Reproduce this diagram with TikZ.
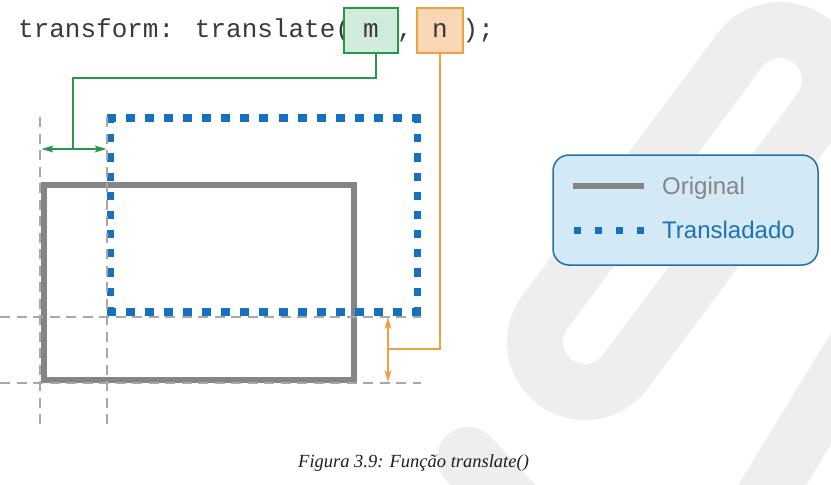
\documentclass[tikz,border=0pt]{standalone}
\usepackage{fontspec}
\usetikzlibrary{arrows.meta}
\newfontfamily\codefont{Liberation Mono}
\newfontfamily\legfont{Liberation Sans}
\newfontfamily\capfont{Liberation Serif}
\definecolor{wm}{RGB}{238,238,238}
\definecolor{codegray}{RGB}{58,58,58}
\definecolor{mgreen}{RGB}{40,150,75}
\definecolor{mfill}{RGB}{208,235,217}
\definecolor{norange}{RGB}{240,160,64}
\definecolor{nfill}{RGB}{249,214,180}
\definecolor{guidegray}{RGB}{168,168,168}
\definecolor{origgray}{RGB}{133,133,133}
\definecolor{tblue}{RGB}{22,114,190}
\definecolor{legfill}{RGB}{211,234,246}
\definecolor{legblue}{RGB}{32,113,176}
\definecolor{capcol}{RGB}{30,30,30}
\tikzset{
  codetxt/.style={font=\codefont\fontsize{26}{26}\selectfont, text=codegray, inner sep=0},
  argbox/.style={codetxt, anchor=base, text height=29pt, text depth=16pt, line width=1.3pt},
  gline/.style={draw=mgreen, line width=1.4pt},
  oline/.style={draw=norange, line width=1.4pt},
  dbl/.style={{Stealth[length=12pt,width=7pt,inset=3pt]}-{Stealth[length=12pt,width=7pt,inset=3pt]}},
  guide/.style={draw=guidegray, line width=1.3pt, dash pattern=on 10pt off 6.5pt},
  origline/.style={draw=origgray, line width=6pt},
  hblue/.style={draw=tblue, line width=7.3pt, dash pattern=on 9pt off 10.06pt},
  vblue/.style={draw=tblue, line width=7pt, dash pattern=on 8.3pt off 10.87pt},
  legtxt/.style={font=\legfont\fontsize{24}{24}\selectfont, anchor=base west, inner sep=0},
}
\begin{document}
\begin{tikzpicture}[x=1pt,y=-1pt]
\useasboundingbox (0,0) rectangle (831,485);
% watermark
\begin{scope}
  \clip (0,0) rectangle (831,485);
  \coordinate (wp1) at (585,342);
  \coordinate (wp2) at (780,80);
  \draw[wm, line width=156pt, line cap=round] (wp1) -- (wp2);
  \draw[white, line width=44pt, line cap=round] (wp1) -- (wp2);
  \draw[wm, line width=58pt] (741,536) -- (876,315);
  \draw[wm, line width=62pt, line cap=round] (468,458) -- (560,556);
\end{scope}
% code line
\node[codetxt, anchor=base west] (code) at (18,37) {transform: translate(};
\node[argbox, draw=mgreen, fill=mfill, minimum width=54pt] (m) at (371,37) {m};
\node[codetxt, anchor=base] (comma) at (405,37) {,};
\node[argbox, draw=norange, fill=nfill, minimum width=46pt] (n) at (440,37) {n};
\node[codetxt, anchor=base west] (close) at (462.5,37) {);};
% original rectangle
\draw[origline] (43.5,185) rectangle (353.5,379.5);
% translated rectangle
\coordinate (tl) at (107,118);
\coordinate (tr) at (421,118);
\coordinate (bl) at (107,312);
\coordinate (br) at (421,312);
\draw[hblue] (tl) -- (tr);
\draw[hblue] (bl) -- (br);
\draw[vblue] (110.5,115) -- (110.5,315);
\draw[vblue] (417.5,115) -- (417.5,315);
% guides
\draw[guide] (40,117) -- (40,426);
\draw[guide] (107,117) -- (107,426);
\draw[guide] (0,317) -- (421,317);
\draw[guide] (0,383) -- (421,383);
% green connector
\coordinate (gk) at (73,78);
\coordinate (gm) at (73,149);
\coordinate (ga) at (41.5,149);
\coordinate (gb) at (106.5,149);
\draw[gline] ([xshift=5pt]m.south) |- (gk) -- (gm);
\draw[gline, dbl] (ga) -- (gb);
% orange connector
\coordinate (om) at (388,349);
\coordinate (oa) at (388,317);
\coordinate (ob) at (388,382);
\draw[oline] (n.south) |- (om);
\draw[oline, dbl] (oa) -- (ob);
% legend
\node[draw=legblue, fill=legfill, line width=1.5pt, rounded corners=16pt, minimum width=265pt, minimum height=110pt, inner sep=0] (leg) at (685.5,210) {};
\coordinate (l1a) at (573,185.5);
\coordinate (l1b) at (644,185.5);
\coordinate (l2a) at (574,230);
\coordinate (l2b) at (644,230);
\draw[origline] (l1a) -- (l1b);
\draw[draw=tblue, line width=7pt, dash pattern=on 7.3pt off 13.6pt] (l2a) -- (l2b);
\node[legtxt, text=origgray] (lo) at (662,194) {Original};
\node[legtxt, text=legblue] (lt) at (662,238) {Transladado};
% caption
\node[anchor=base west, inner sep=0, text=capcol, font=\capfont\itshape\fontsize{18.5}{18.5}\selectfont] (cap) at (298,467) {Figura 3.9: Função translate()};
\end{tikzpicture}
\end{document}
